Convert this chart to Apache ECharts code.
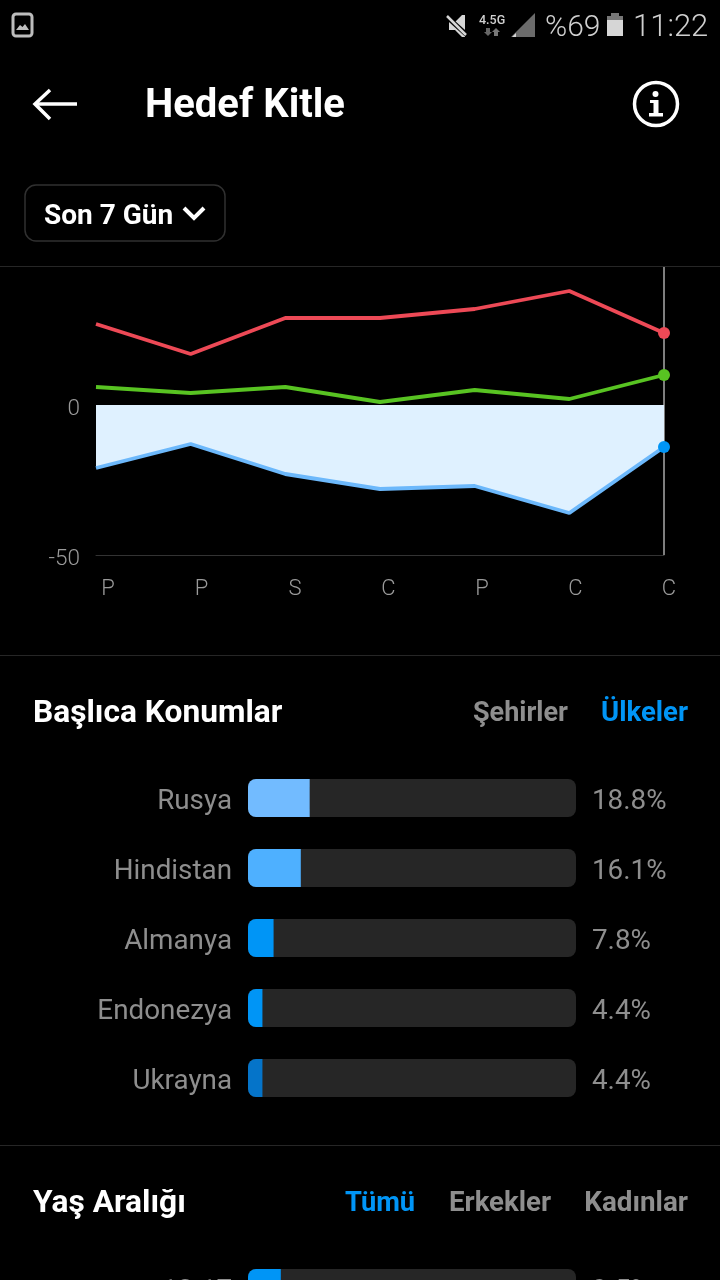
<!DOCTYPE html>
<html><head><meta charset="utf-8">
<style>html,body{margin:0;padding:0;background:#000}#c{width:720px;height:1280px}</style>
<script src="https://cdn.jsdelivr.net/npm/echarts@6/dist/echarts.min.js"></script>
</head><body><div id="c"></div>
<script>
// Line chart data
const days = ['P','P','S','C','P','C','C'];
const redValues = [27,17,29,29,32,38,24];
const greenValues = [6,4,6,1,5,2,10];
const blueValues = [-21,-13,-23,-28,-27,-36,-14];
// Locations
const locations = ['Rusya','Hindistan','Almanya','Endonezya','Ukrayna'];
const locationValues = [18.8,16.1,7.8,4.4,4.4];
const locationColors = ['#72bbff','#4eb0ff','#0095f6','#0095f6','#0574c9'];
// Age
const ages = ['13-17'];
const ageValues = [10];
const ageTickLabels = ['9.5%'];
const FONT = 'Roboto, sans-serif';
const pct = v => v.toFixed(1)+'%';

const chart = echarts.init(document.getElementById('c'), null, {renderer:'canvas'});

function t(x,y,text,size,weight,fill,align){
  return {type:'text',x,y:y+3,style:{text,font:`${weight} ${size}px ${FONT}`,fill,textAlign:align||'left',textVerticalAlign:'middle'}};
}
function hline(y){return {type:'line',shape:{x1:0,y1:y,x2:720,y2:y},style:{stroke:'#262626',lineWidth:1}};}
const graphics = [
  hline(266.5),hline(655.5),hline(1145.5),
  // status bar
  {type:'rect',shape:{x:13,y:14,width:19,height:22,r:3},style:{fill:'none',stroke:'#bdbdbd',lineWidth:3}},
  {type:'polygon',shape:{points:[[16,30],[20,25],[22.5,27],[25,24],[29,30]]},style:{fill:'#bdbdbd'}},
  {type:'polygon',shape:{points:[[449,22],[455,22],[462,15],[465,15],[465,37],[462,37],[455,30],[449,30]]},style:{fill:'#d6d6d6'}},
  {type:'line',shape:{x1:447,y1:17,x2:467,y2:35},style:{stroke:'#000',lineWidth:5}},
  {type:'line',shape:{x1:447,y1:16,x2:466,y2:35},style:{stroke:'#d6d6d6',lineWidth:2.5}},
  t(479,18,'4.5G',12.5,'500','#d0d0d0'),
  {type:'polygon',shape:{points:[[486,28],[490,28],[490,32],[492,32],[488,36],[484,32],[486,32]]},style:{fill:'#666'}},
  {type:'polygon',shape:{points:[[494,36],[498,36],[498,32],[500,32],[496,28],[492,32],[494,32]]},style:{fill:'#777'}},
  {type:'polygon',shape:{points:[[535,13],[535,37],[511,37]]},style:{fill:'#6b6b6b'}},
  {type:'polygon',shape:{points:[[516,33],[516,37],[512,37]]},style:{fill:'#d6d6d6'}},
  t(545,25,'%69',30,'300','#d0d0d0'),
  {type:'rect',shape:{x:607,y:16,width:16,height:20},style:{fill:'#d6d6d6'}},
  {type:'rect',shape:{x:611,y:13,width:8,height:3},style:{fill:'#777'}},
  {type:'rect',shape:{x:607,y:16,width:16,height:4},style:{fill:'#777'}},
  t(633,25,'11:22',31,'300','#d0d0d0'),
  // header
  {type:'polyline',shape:{points:[[50,90],[35,104],[50,119]]},style:{fill:'none',stroke:'#fff',lineWidth:3.5}},
  {type:'line',shape:{x1:36,y1:104,x2:77,y2:104},style:{stroke:'#fff',lineWidth:3.5}},
  t(145,104,'Hedef Kitle',40,'700','#fff'),
  {type:'circle',shape:{cx:656,cy:104,r:21.5},style:{fill:'none',stroke:'#fff',lineWidth:3.5}},
  {type:'circle',shape:{cx:655.5,cy:94,r:3},style:{fill:'#fff'}},
  {type:'rect',shape:{x:653.5,y:100,width:5,height:15},style:{fill:'#fff'}},
  {type:'rect',shape:{x:650,y:100,width:6,height:3},style:{fill:'#fff'}},
  {type:'rect',shape:{x:649,y:113,width:14,height:3.5},style:{fill:'#fff'}},
  // range dropdown
  {type:'rect',shape:{x:25,y:185,width:200,height:56,r:11},style:{fill:'#000',stroke:'#303030',lineWidth:1.5}},
  t(44,214,'Son 7 Gün',28,'700','#fff'),
  {type:'polyline',shape:{points:[[184,208],[194,218],[204,208]]},style:{fill:'none',stroke:'#fff',lineWidth:4}},
  // section heads
  t(33,711,'Başlıca Konumlar',31.7,'700','#fff'),
  t(473,711,'Şehirler',27,'700','#8e8e8e'),
  t(688,711,'Ülkeler',27.5,'700','#0095f6','right'),
  t(33,1201,'Yaş Aralığı',31.7,'700','#fff'),
  t(345,1201,'Tümü',27.3,'700','#0095f6'),
  t(449,1201,'Erkekler',27.6,'700','#8e8e8e'),
  t(688,1201,'Kadınlar',27.8,'700','#8e8e8e','right')
];

const lastOnly = (v,p)=>p.dataIndex===days.length-1?'circle':'none';
function lineSeries(name,data,lineColor,dotColor,extra){
  return Object.assign({name,type:'line',xAxisIndex:0,yAxisIndex:0,data,symbol:lastOnly,symbolSize:12,showAllSymbol:true,clip:false,
    smooth:false,silent:true,z:3,lineStyle:{color:lineColor,width:3.8},itemStyle:{color:dotColor}},extra||{});
}
const axisLabelGrey = {color:'#9a9a9a',fontFamily:FONT,fontWeight:300};
const barTrack = {color:'#262626',borderRadius:8};

function barSet(idx,cats,vals,colors,labels){
  const lab = {color:'#8e8e8e',fontFamily:FONT,fontSize:27.8,margin:16,fontWeight:400,verticalAlign:'top',lineHeight:8};
  return {
    xAxis:{gridIndex:idx,type:'value',min:0,max:100,show:false},
    yAxes:[
      {gridIndex:idx,type:'category',inverse:true,data:cats,axisLine:{show:false},axisTick:{show:false},axisLabel:lab},
      {gridIndex:idx,type:'category',inverse:true,position:'right',data:labels,axisLine:{show:false},axisTick:{show:false},axisLabel:lab}
    ],
    vals,colors
  };
}
const locSet = barSet(2,locations,locationValues,locationColors,locationValues.map(pct));
const ageSet = barSet(3,ages,ageValues,['#0095f6'],ageTickLabels);

chart.setOption({
  backgroundColor:'#000',animation:false,
  grid:[
    {left:96,top:267,width:568,height:288,outerBoundsMode:'none'},
    {left:108,top:267,width:561,height:288,outerBoundsMode:'none'},
    {left:248,top:763,width:328,height:350,outerBoundsMode:'none'},
    {left:248,top:1253,width:328,height:70,outerBoundsMode:'none'}
  ],
  xAxis:[
    {gridIndex:0,type:'category',boundaryGap:false,data:days,axisTick:{show:false},axisLabel:{show:false},
     axisLine:{onZero:false,lineStyle:{color:'#333',width:1}}},
    {gridIndex:1,type:'category',boundaryGap:false,data:days,axisTick:{show:false},axisLine:{show:false},
     axisLabel:Object.assign({fontSize:22,margin:23,interval:0,hideOverlap:false,showMinLabel:true,showMaxLabel:true},axisLabelGrey)},
    locSet.xAxis,ageSet.xAxis
  ],
  yAxis:[
    {gridIndex:0,type:'value',min:-50,max:46,interval:50,splitLine:{show:false},axisLine:{show:false},axisTick:{show:false},
     axisLabel:Object.assign({fontSize:22.5,margin:16,verticalAlign:'top',lineHeight:8,showMaxLabel:false,formatter:v=>v>46?'':String(v)},axisLabelGrey)},
    {gridIndex:1,type:'value',show:false,min:-50,max:46},
    locSet.yAxes[0],locSet.yAxes[1],ageSet.yAxes[0],ageSet.yAxes[1]
  ],
  series:[
    lineSeries('Erkekler',blueValues,'#6cb8fb','#0095f6',{areaStyle:{color:'#dff1ff',opacity:1},z:2,
      markLine:{silent:true,symbol:'none',label:{show:false},lineStyle:{color:'#a8a8a8',width:1.5,type:'solid'},data:[{xAxis:days.length-1}],z:1}}),
    lineSeries('Kadınlar',redValues,'#ed4956','#ed4956'),
    lineSeries('Tümü',greenValues,'#58c322','#58c322'),
    {type:'bar',xAxisIndex:2,yAxisIndex:2,data:locSet.vals.map((v,i)=>({value:v,itemStyle:{color:locSet.colors[i]}})),barWidth:38,silent:true,
     showBackground:true,backgroundStyle:barTrack,itemStyle:{borderRadius:[8,0,0,8]}},
    {type:'bar',xAxisIndex:3,yAxisIndex:4,data:ageSet.vals.map((v,i)=>({value:v,itemStyle:{color:ageSet.colors[i]}})),barWidth:38,silent:true,
     showBackground:true,backgroundStyle:barTrack,itemStyle:{borderRadius:[8,0,0,8]}}
  ],
  graphic:{elements:graphics}
});
</script></body></html>
